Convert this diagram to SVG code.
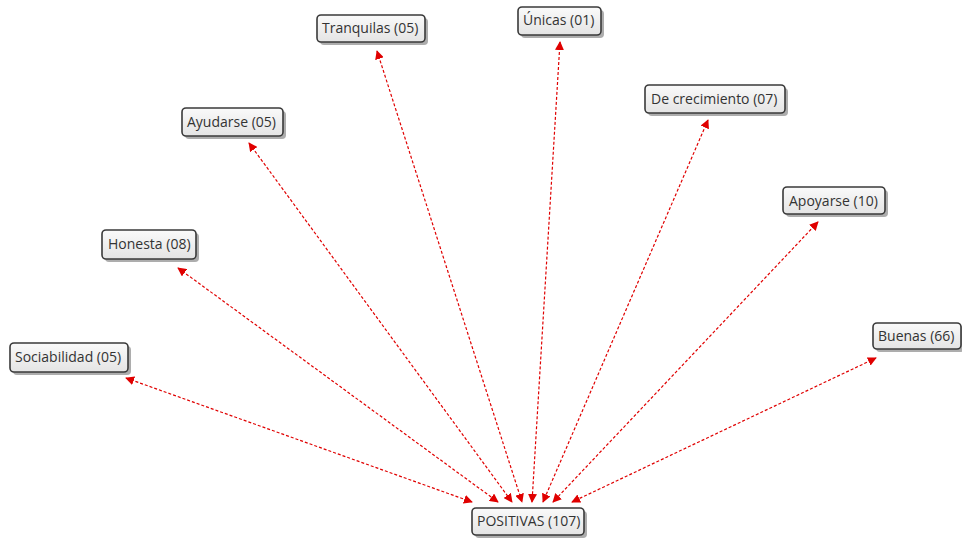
<svg xmlns="http://www.w3.org/2000/svg" width="962" height="543" viewBox="0 0 962 543">
<defs>
<linearGradient id="g" x1="0" y1="0" x2="0" y2="1"><stop offset="0" stop-color="#fafafa"/><stop offset="1" stop-color="#e4e4e4"/></linearGradient>
<marker id="ah" viewBox="0 0 10 10" refX="9" refY="5" markerWidth="9" markerHeight="9" markerUnits="userSpaceOnUse" orient="auto-start-reverse"><path d="M0,0L10,5L0,10z" fill="#e00000"/></marker>
</defs>
<style>
.box{fill:url(#g);stroke:#3a3a3a;stroke-width:1.6}
.sh{fill:#777;opacity:0.6}
.t{font-family:"Open Sans","Noto Sans",sans-serif;font-size:14px;fill:#333}
.c{stroke:#e00000;stroke-width:1.2;stroke-dasharray:3,2;fill:none;marker-start:url(#ah);marker-end:url(#ah)}
</style>
<rect width="962" height="543" fill="#fff"/>
<g id="connectors">
<line class="c" x1="126" y1="378" x2="472" y2="502"/>
<line class="c" x1="178" y1="268" x2="498" y2="502"/>
<line class="c" x1="249" y1="143" x2="512" y2="502"/>
<line class="c" x1="377" y1="51" x2="522" y2="502"/>
<line class="c" x1="560" y1="42" x2="532" y2="502"/>
<line class="c" x1="708" y1="120" x2="543" y2="502"/>
<line class="c" x1="818" y1="222" x2="553" y2="502"/>
<line class="c" x1="876" y1="358" x2="572" y2="502"/>
</g>
<g id="tranquilas"><rect class="sh" x="320" y="18" width="108" height="27" rx="4"/><rect class="box" x="317" y="15" width="108" height="27" rx="4"/><text class="t" x="322" y="33">Tranquilas (05)</text></g>
<g id="unicas"><rect class="sh" x="521" y="10" width="83" height="28" rx="4"/><rect class="box" x="518" y="7" width="83" height="28" rx="4"/><text class="t" x="523" y="25">Únicas (01)</text></g>
<g id="decrecimiento"><rect class="sh" x="648" y="88" width="140" height="28" rx="4"/><rect class="box" x="645" y="85" width="140" height="28" rx="4"/><text class="t" x="651" y="104">De crecimiento (07)</text></g>
<g id="ayudarse"><rect class="sh" x="185" y="111" width="101" height="28" rx="4"/><rect class="box" x="182" y="108" width="101" height="28" rx="4"/><text class="t" x="187" y="127">Ayudarse (05)</text></g>
<g id="apoyarse"><rect class="sh" x="786" y="190" width="102" height="27" rx="4"/><rect class="box" x="783" y="187" width="102" height="27" rx="4"/><text class="t" x="789" y="206">Apoyarse (10)</text></g>
<g id="honesta"><rect class="sh" x="105" y="233" width="94" height="29" rx="4"/><rect class="box" x="102" y="230" width="94" height="29" rx="4"/><text class="t" x="108" y="249">Honesta (08)</text></g>
<g id="sociabilidad"><rect class="sh" x="13" y="346" width="118" height="29" rx="4"/><rect class="box" x="10" y="343" width="118" height="29" rx="4"/><text class="t" x="15" y="362">Sociabilidad (05)</text></g>
<g id="buenas"><rect class="sh" x="876" y="326" width="88" height="26" rx="4"/><rect class="box" x="873" y="323" width="88" height="26" rx="4"/><text class="t" x="878" y="341">Buenas (66)</text></g>
<g id="positivas"><rect class="sh" x="475" y="511" width="112" height="27" rx="4"/><rect class="box" x="472" y="508" width="112" height="27" rx="4"/><text class="t" x="477" y="526">POSITIVAS (107)</text></g>
</svg>
